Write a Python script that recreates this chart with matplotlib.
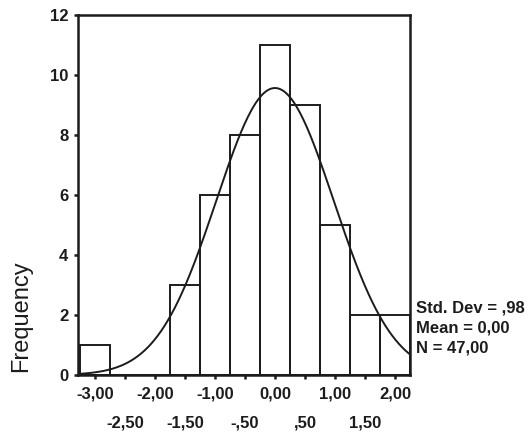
import numpy as np
import matplotlib
matplotlib.use("Agg")
import matplotlib.pyplot as plt
from matplotlib.ticker import FixedLocator, FixedFormatter

# histogram bins (centers, width 0.5) and counts
bin_centers = [-3.0, -2.5, -2.0, -1.5, -1.0, -0.5, 0.0, 0.5, 1.0, 1.5, 2.0]
counts = [1, 0, 0, 3, 6, 8, 11, 9, 5, 2, 2]
bin_width = 0.5

major_ticks = [-3.0, -2.0, -1.0, 0.0, 1.0, 2.0]
major_labels = ["-3,00", "-2,00", "-1,00", "0,00", "1,00", "2,00"]
minor_ticks = [-2.5, -1.5, -0.5, 0.5, 1.5]
minor_labels = ["-2,50", "-1,50", "-,50", ",50", "1,50"]
y_ticks = [0, 2, 4, 6, 8, 10, 12]

std_dev = 0.98
mean = 0.0
n_obs = 47

stats_lines = ["Std. Dev = ,98", "Mean = 0,00", "N = 47,00"]

ink = "#1c1c1c"
plt.rcParams['font.family'] = ['Liberation Sans', 'DejaVu Sans']

fig = plt.figure(figsize=(5.32, 4.33), dpi=100)
ax = fig.add_axes([78 / 532, 1 - 375 / 433, (410 - 78) / 532, (375 - 15) / 433])

ax.bar(bin_centers, counts, width=bin_width, facecolor="none",
       edgecolor=ink, linewidth=1.4)

# fitted normal curve
x0, x1 = -3.283, 2.25
xs = np.linspace(x0, x1, 300)
ys = n_obs * bin_width / (std_dev * np.sqrt(2 * np.pi)) * np.exp(-0.5 * ((xs - mean) / std_dev) ** 2)
ax.plot(xs, ys, color=ink, linewidth=1.4)

ax.set_xlim(x0, x1)
ax.set_ylim(0, 12)

for s in ax.spines.values():
    s.set_color(ink)
    s.set_linewidth(1.8)

ax.yaxis.set_major_locator(FixedLocator(y_ticks))
ax.set_yticklabels([str(v) for v in y_ticks])
ax.tick_params(axis='y', length=3, width=1.8, color=ink, pad=4,
               labelsize=12, labelcolor=ink)
for t in ax.get_yticklabels():
    t.set_fontweight('bold')

ax.xaxis.set_major_locator(FixedLocator(major_ticks))
ax.xaxis.set_major_formatter(FixedFormatter(major_labels))
ax.xaxis.set_minor_locator(FixedLocator(minor_ticks))
ax.xaxis.set_minor_formatter(FixedFormatter(minor_labels))
ax.tick_params(axis='x', which='major', length=3, width=1.8, color=ink,
               pad=5, labelsize=12, labelcolor=ink)
ax.tick_params(axis='x', which='minor', length=3, width=1.8, color=ink,
               pad=26, labelsize=12, labelcolor=ink)
for t in ax.get_xticklabels(which='both'):
    t.set_fontweight('bold')

fig.text(21 / 532, 1 - 316 / 433, "Frequency", rotation=90, ha='center',
         va='center', fontsize=17, color=ink)

for i, line in enumerate(stats_lines):
    fig.text(416 / 532, 1 - (308 + 20 * i) / 433, line, ha='left', va='center',
             fontsize=12, fontweight='bold', color=ink)

fig.savefig("out.png", dpi=100, facecolor="white")
